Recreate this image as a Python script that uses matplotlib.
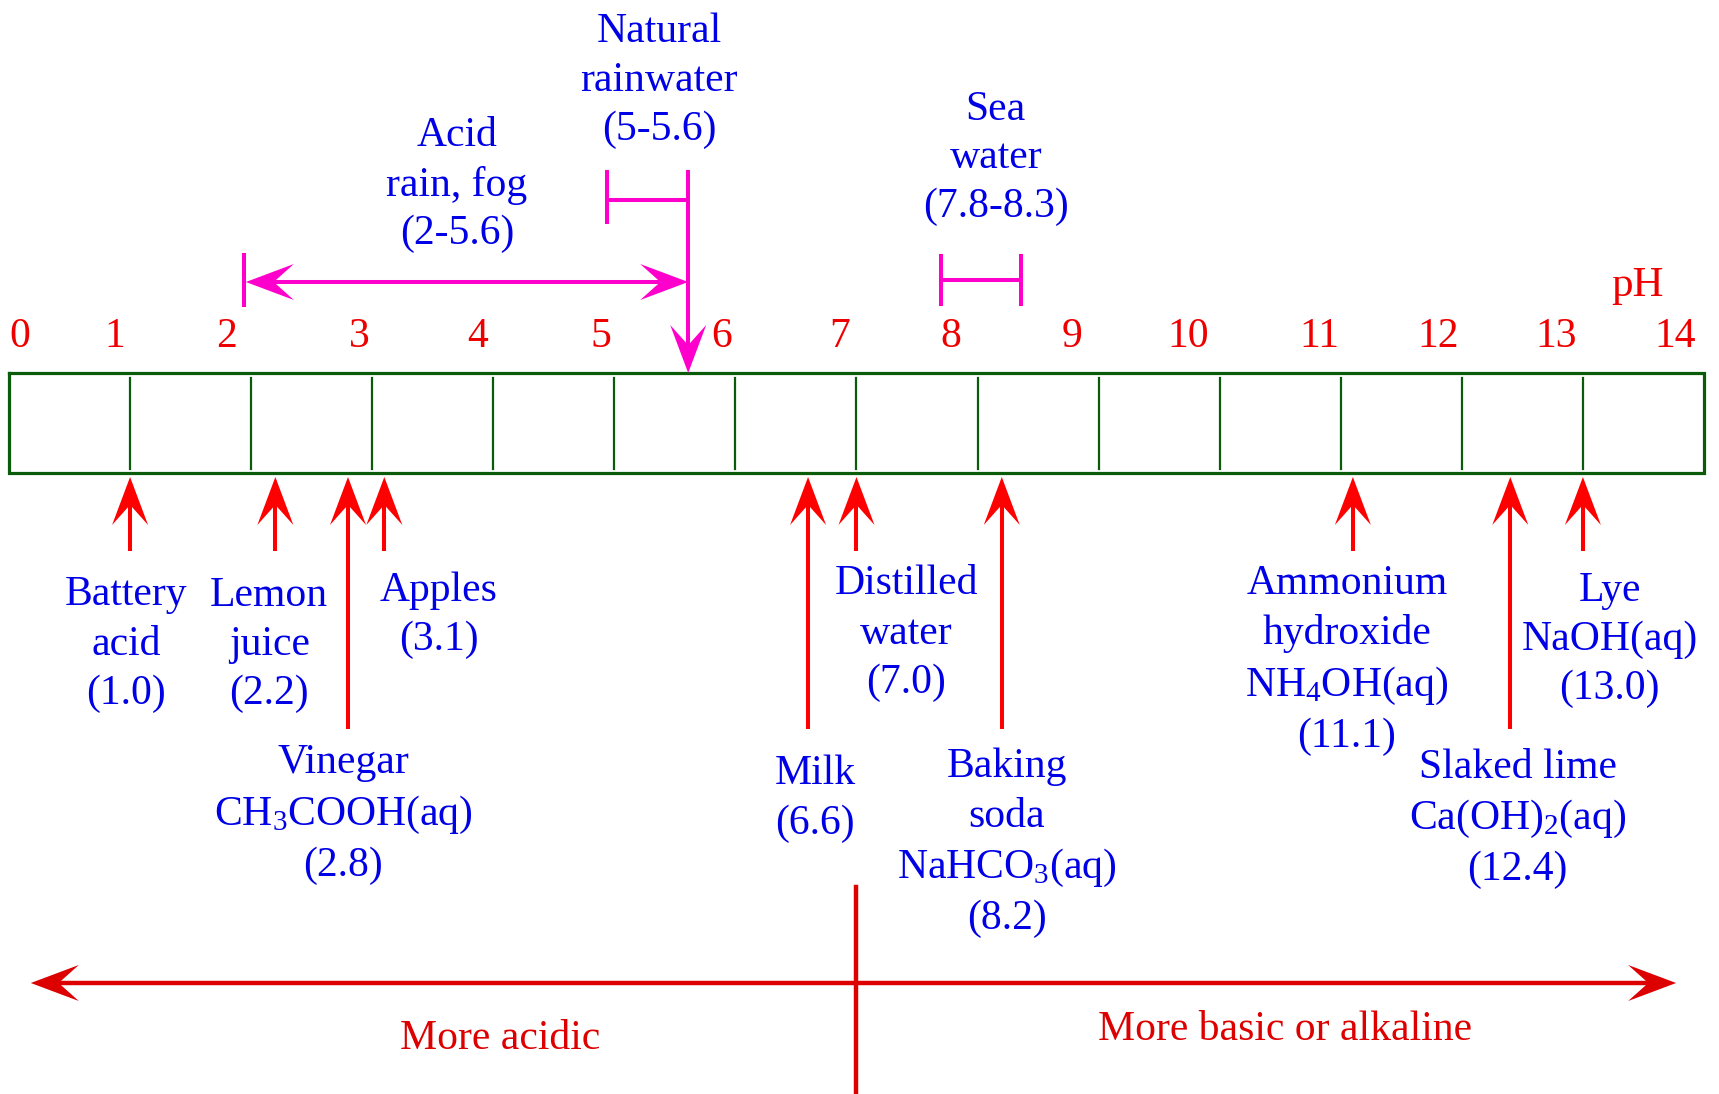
import matplotlib
matplotlib.use('Agg')
import matplotlib.pyplot as plt
from matplotlib.patches import Polygon

plt.rcParams['font.family'] = ['Liberation Serif', 'DejaVu Serif']
plt.rcParams['mathtext.fontset'] = 'custom'
plt.rcParams['mathtext.rm'] = 'Liberation Serif'
plt.rcParams['mathtext.default'] = 'regular'

# pH scale numbers and where their labels sit
ph_numbers = list(range(0, 15))
number_x = [0.09, 0.87, 1.80, 2.89, 3.87, 4.89, 5.89, 6.86, 7.78, 8.78, 9.74, 10.82, 11.80, 12.78, 13.76]

# substances pointed at from below
names = ['Battery\nacid', 'Lemon\njuice', 'Vinegar\nCH$_3$COOH(aq)', 'Apples', 'Milk',
         'Distilled\nwater', 'Baking\nsoda\nNaHCO$_3$(aq)', 'Ammonium\nhydroxide\nNH$_4$OH(aq)',
         'Slaked lime\nCa(OH)$_2$(aq)', 'Lye\nNaOH(aq)']
ph_values = [1.0, 2.2, 2.8, 3.1, 6.6, 7.0, 8.2, 11.1, 12.4, 13.0]
long_arrow = [False, False, True, False, True, False, True, False, True, False]
label_x = [0.97, 2.15, 2.76, 3.55, 6.66, 7.41, 8.24, 11.05, 12.46, 13.22]
label_top = [576, 576, 744, 571, 755, 565, 748, 565, 748, 571]

# ranges drawn above the scale
range_names = ['Acid\nrain, fog\n(2-5.6)', 'Natural\nrainwater\n(5-5.6)', 'Sea\nwater\n(7.8-8.3)']
range_lo = [1.94, 4.94, 7.70]
range_hi = [5.61, 5.61, 8.36]
range_label_x = [3.70, 5.37, 8.15]
range_label_top = [117, 13, 90]
range_bar_y = [282, 200, 280]

BLUE = '#0000e6'
RED = '#ee0000'
DRED = '#dd0000'
MAG = '#ff00cc'
GREEN = '#0a5c0a'
FS = 30

W, H = 1719, 1094
PX = 1 / 121.07          # pH units per pixel
X0 = -9 * PX

fig = plt.figure(figsize=(W / 100, H / 100), dpi=100)
ax = fig.add_axes([0, 0, 1, 1])
ax.set_xlim(X0, X0 + W * PX)
ax.set_ylim(H, 0)
ax.axis('off')


def head(x, y, dx, dy, color, L=48, hw=18, notch=0.58):
    # barbed arrow head, tip at (x, y), pointing along (dx, dy) in pixel space
    bx, by = -dx, -dy
    qx, qy = -dy, dx
    pts = [(x, y),
           (x + (bx * L + qx * hw) * PX, y + by * L + qy * hw),
           (x + bx * L * notch * PX, y + by * L * notch),
           (x + (bx * L - qx * hw) * PX, y + by * L - qy * hw)]
    ax.add_patch(Polygon(pts, closed=True, facecolor=color, edgecolor='none', zorder=3))


# the scale box
BOX_TOP, BOX_BOT = 373, 473
ax.plot([0, 14, 14, 0, 0], [BOX_TOP, BOX_TOP, BOX_BOT, BOX_BOT, BOX_TOP], color=GREEN, lw=2.3,
        solid_joinstyle='miter')
for t in range(1, 14):
    ax.plot([t, t], [BOX_TOP + 5, BOX_BOT - 4], color=GREEN, lw=1.6)

for v, x in zip(ph_numbers, number_x):
    ax.text(x, 347, str(v), ha='center', va='baseline', color=RED, fontsize=FS)
ax.text(13.455, 296, 'pH', ha='center', va='baseline', color=RED, fontsize=FS + 1)

# substances
for name, v, lg, lx, ly in zip(names, ph_values, long_arrow, label_x, label_top):
    tip = BOX_BOT + 4
    end = 729 if lg else 551
    ax.plot([v, v], [end, tip + 48 * 0.58], color='#ff0000', lw=2.9, solid_capstyle='butt')
    head(v, tip, 0, -1, '#ff0000')
    ax.text(lx, ly, f'{name}\n({v:.1f})', ha='center', va='top', color=BLUE,
            fontsize=FS, linespacing=1.36, multialignment='center')

# ranges
for nm, lx, ly in zip(range_names, range_label_x, range_label_top):
    ax.text(lx, ly, nm, ha='center', va='top', color=BLUE, fontsize=FS,
            linespacing=1.34, multialignment='center')

# acid rain: bar on the left, double arrow
lo, hi, y = range_lo[0], range_hi[0], range_bar_y[0]
ax.plot([lo, lo], [y - 27, y + 23], color=MAG, lw=2.9)
ax.plot([lo + 30 * PX, hi - 30 * PX], [y, y], color=MAG, lw=2.9)
head(lo + 2 * PX, y, -1, 0, MAG)
head(hi, y, 1, 0, MAG)

# natural rainwater: bracket, right side runs down to the scale
lo, hi, y = range_lo[1], range_hi[1], range_bar_y[1]
ax.plot([lo, lo], [y - 28, y + 22], color=MAG, lw=2.9)
ax.plot([lo, hi], [y, y], color=MAG, lw=2.9)
ax.plot([hi, hi], [y - 28, BOX_TOP - 30], color=MAG, lw=2.9)
head(hi, BOX_TOP, 0, 1, MAG)

# sea water
lo, hi, y = range_lo[2], range_hi[2], range_bar_y[2]
ax.plot([lo, lo], [y - 24, y + 24], color=MAG, lw=2.9)
ax.plot([hi, hi], [y - 24, y + 24], color=MAG, lw=2.9)
ax.plot([lo, hi], [y, y], color=MAG, lw=2.9)

# acidic / basic arrow
ya = 983
ax.plot([0.18 + 30 * PX, 13.77 - 30 * PX], [ya, ya], color=DRED, lw=3.2)
head(0.18, ya, -1, 0, DRED)
head(13.77, ya, 1, 0, DRED)
ax.plot([7.0, 7.0], [887, H], color=DRED, lw=3.2)
ax.text(4.06, 1049, 'More acidic', ha='center', va='baseline', color=DRED, fontsize=FS)
ax.text(10.54, 1040, 'More basic or alkaline', ha='center', va='baseline', color=DRED, fontsize=FS)

fig.savefig('out.png', dpi=100)
